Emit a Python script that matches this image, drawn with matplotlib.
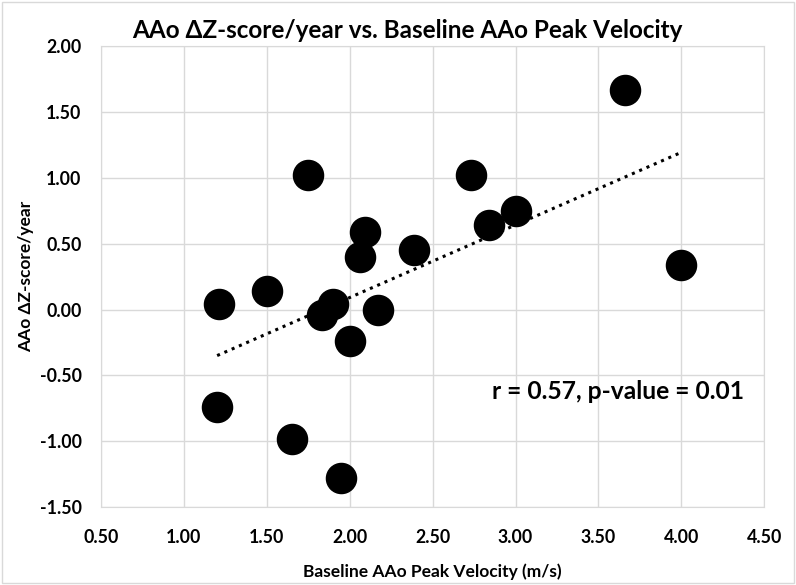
import numpy as np
import matplotlib.pyplot as plt
from matplotlib.patches import Rectangle

plt.rcParams['font.family'] = ['Lato', 'DejaVu Sans']

# baseline AAo peak velocity (m/s) and AAo delta Z-score per year
velocity = [3.66, 2.73, 1.75, 2.09, 2.06, 2.39, 2.84, 3.00, 4.00,
            1.50, 1.21, 1.90, 1.83, 2.17, 2.00, 1.20, 1.65, 1.95]
dz_year = [1.67, 1.02, 1.02, 0.59, 0.40, 0.45, 0.64, 0.75, 0.34,
           0.14, 0.04, 0.04, -0.04, 0.00, -0.24, -0.74, -0.98, -1.28]

x = np.array(velocity)
y = np.array(dz_year)
slope, icpt = np.polyfit(x, y, 1)

fig = plt.figure(figsize=(7.96, 5.85), dpi=100)
ax = fig.add_axes([0.127, 0.133, 0.833, 0.788])

ax.scatter(x, y, s=470, color='black', zorder=3)

xt = np.array([x.min(), x.max()])
ax.plot(xt, slope * xt + icpt, color='black', linestyle=(0, (1, 1.6)), linewidth=2.2, zorder=2)

ax.set_xlim(0.5, 4.5)
ax.set_ylim(-1.5, 2.0)
ax.set_xticks(np.arange(0.5, 4.51, 0.5))
ax.set_yticks(np.arange(-1.5, 2.01, 0.5))
ax.set_xticklabels([f"{v:.2f}" for v in np.arange(0.5, 4.51, 0.5)])
ax.set_yticklabels([f"{v:.2f}" for v in np.arange(-1.5, 2.01, 0.5)])
ax.grid(True, color='#d9d9d9', linewidth=1)
ax.set_axisbelow(True)
for s in ax.spines.values():
    s.set_color('#d9d9d9')
ax.tick_params(length=0, labelsize=12.8)
ax.tick_params(axis='x', pad=16)
ax.tick_params(axis='y', pad=14)
for lab in ax.get_xticklabels() + ax.get_yticklabels():
    lab.set_fontweight('bold')

ax.set_xlabel("Baseline AAo Peak Velocity (m/s)", fontsize=12.5, fontweight='bold', labelpad=12)
ax.set_ylabel("AAo ΔZ-score/year", fontsize=12.5, fontweight='bold', labelpad=4)

fig.text(0.512, 0.948, "AAo ΔZ-score/year vs. Baseline AAo Peak Velocity",
         ha='center', va='center', fontsize=17.5, fontweight='bold')

ax.text(3.62, -0.62, "r = 0.57, p-value = 0.01", ha='center', va='center',
        fontsize=17.7, fontweight='bold')

# light chart border
fig.patches.append(Rectangle((0.003, 0.003), 0.994, 0.994, transform=fig.transFigure,
                             fill=False, edgecolor='#d9d9d9', linewidth=1))

fig.savefig("out.png", dpi=100)
